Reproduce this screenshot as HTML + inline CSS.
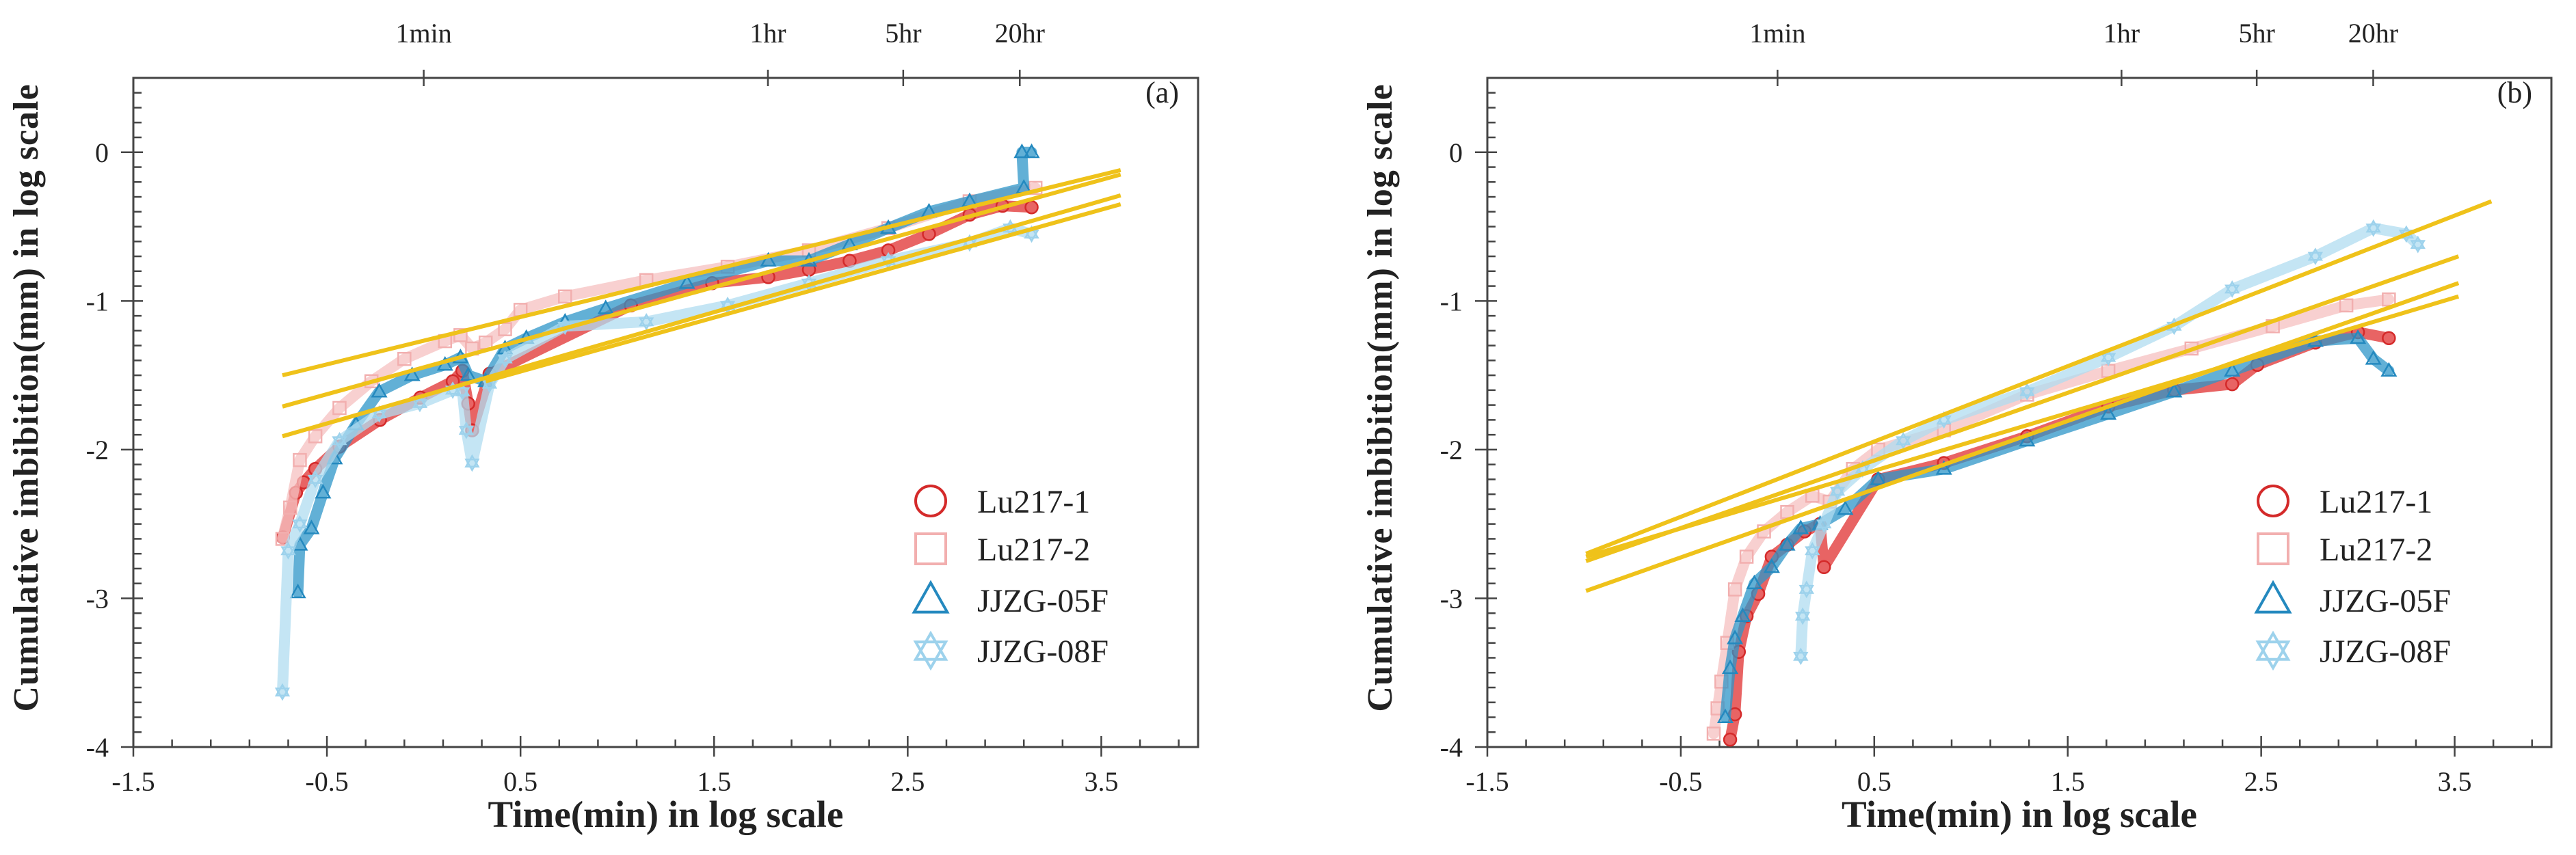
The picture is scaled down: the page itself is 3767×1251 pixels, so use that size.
<!DOCTYPE html>
<html><head><meta charset="utf-8">
<style>
html,body{margin:0;padding:0;background:#fff;}
svg{display:block;}
text{font-family:"Liberation Serif",serif;fill:#222;}
</style></head>
<body>
<svg id="chart" xmlns="http://www.w3.org/2000/svg" width="3767" height="1251" viewBox="0 0 3767 1251"></svg>
<script>
// ---- data panel (a) ----
const seriesNames = ["Lu217-1","Lu217-2","JJZG-05F","JJZG-08F"];
const xTicks = [-1.5,-0.5,0.5,1.5,2.5,3.5];
const xTickLabels = ["-1.5","-0.5","0.5","1.5","2.5","3.5"];
const yTicks = [0,-1,-2,-3,-4];
const yTickLabels = ["0","-1","-2","-3","-4"];
const topTicks = [0,1.778,2.477,3.079];
const topTickLabels = ["1min","1hr","5hr","20hr"];

const aLu1X = [-0.727,-0.66,-0.62,-0.56,-0.435,-0.226,-0.017,0.15,0.2,0.23,0.25,0.34,1.07,1.49,1.78,1.99,2.2,2.4,2.61,2.82,2.99,3.14];
const aLu1Y = [-2.59,-2.29,-2.22,-2.13,-1.98,-1.80,-1.65,-1.54,-1.47,-1.69,-1.87,-1.49,-1.03,-0.88,-0.84,-0.79,-0.73,-0.66,-0.55,-0.42,-0.36,-0.37];
const aLu2X = [-0.73,-0.69,-0.64,-0.56,-0.435,-0.27,-0.1,0.11,0.19,0.25,0.32,0.42,0.5,0.73,1.15,1.57,1.99,2.4,2.82,3.16];
const aLu2Y = [-2.6,-2.39,-2.07,-1.91,-1.72,-1.54,-1.39,-1.27,-1.23,-1.32,-1.28,-1.19,-1.06,-0.97,-0.86,-0.77,-0.66,-0.51,-0.33,-0.24];
const a05X = [-0.65,-0.64,-0.58,-0.52,-0.46,-0.35,-0.23,-0.06,0.11,0.19,0.23,0.32,0.42,0.53,0.73,0.94,1.36,1.78,1.99,2.2,2.4,2.61,2.82,3.1,3.09,3.14];
const a05Y = [-2.96,-2.64,-2.53,-2.29,-2.06,-1.83,-1.61,-1.5,-1.43,-1.38,-1.5,-1.54,-1.32,-1.25,-1.14,-1.05,-0.88,-0.73,-0.73,-0.62,-0.51,-0.40,-0.33,-0.24,0,0];
const a08X = [-0.73,-0.7,-0.64,-0.56,-0.435,-0.23,-0.02,0.15,0.2,0.22,0.25,0.34,0.42,0.73,1.15,1.57,1.99,2.4,2.82,3.03,3.14];
const a08Y = [-3.63,-2.68,-2.5,-2.2,-1.94,-1.76,-1.69,-1.6,-1.61,-1.87,-2.09,-1.56,-1.39,-1.17,-1.14,-1.03,-0.88,-0.73,-0.61,-0.51,-0.55];
const aFitX0 = [-0.73,-0.73,-0.73,0.32];
const aFitY0 = [-1.5,-1.71,-1.91,-1.54];
const aFitX1 = [3.6,3.6,3.6,3.6];
const aFitY1 = [-0.12,-0.15,-0.29,-0.35];

// ---- data panel (b) ----
const bLu1X = [-0.245,-0.22,-0.2,-0.16,-0.1,-0.03,0.05,0.14,0.22,0.24,0.52,0.86,1.29,1.71,2.05,2.35,2.48,2.78,3.0,3.16];
const bLu1Y = [-3.95,-3.78,-3.36,-3.12,-2.97,-2.72,-2.64,-2.55,-2.5,-2.79,-2.2,-2.09,-1.91,-1.71,-1.6,-1.56,-1.43,-1.28,-1.21,-1.25];
const bLu2X = [-0.33,-0.31,-0.29,-0.26,-0.22,-0.16,-0.07,0.05,0.18,0.27,0.39,0.52,0.86,1.29,1.71,2.14,2.56,2.94,3.16];
const bLu2Y = [-3.91,-3.74,-3.56,-3.3,-2.94,-2.72,-2.55,-2.42,-2.31,-2.35,-2.13,-2.0,-1.87,-1.63,-1.47,-1.32,-1.17,-1.03,-0.99];
const b05X = [-0.27,-0.245,-0.22,-0.18,-0.12,-0.03,0.05,0.12,0.22,0.35,0.52,0.86,1.29,1.71,2.05,2.35,2.78,3.0,3.08,3.16];
const b05Y = [-3.8,-3.47,-3.27,-3.12,-2.9,-2.79,-2.64,-2.53,-2.5,-2.4,-2.2,-2.13,-1.94,-1.76,-1.61,-1.47,-1.27,-1.25,-1.39,-1.47];
const b08X = [0.12,0.13,0.15,0.18,0.24,0.31,0.44,0.65,0.86,1.29,1.71,2.05,2.35,2.78,3.08,3.25,3.31];
const b08Y = [-3.39,-3.12,-2.94,-2.68,-2.5,-2.28,-2.13,-1.94,-1.8,-1.61,-1.38,-1.17,-0.92,-0.7,-0.51,-0.55,-0.62];
const bFitX0 = [-0.99,-0.99,-0.99,-0.99];
const bFitY0 = [-2.70,-2.75,-2.95,-2.72];
const bFitX1 = [3.69,3.52,3.52,3.52];
const bFitY1 = [-0.33,-0.70,-0.88,-0.97];

const NS = "http://www.w3.org/2000/svg";
const svg = document.getElementById("chart");
const colors = ["#d42a2a","#f2afaf","#2489bf","#9dd2ec"];
const bandColors = ["#e03030","#f5c0c0","#2e95c8","#b0dcf0"];
const shapes = ["circle","square","triangle","star"];

function el(tag, attrs, parent){
  const e = document.createElementNS(NS, tag);
  for (const k in attrs) e.setAttribute(k, attrs[k]);
  (parent||svg).appendChild(e);
  return e;
}
function marker(shape, cx, cy, r, color, sw, parent){
  let m;
  if (shape==="circle") m = el("circle",{cx:cx,cy:cy,r:r,fill:"none",stroke:color,"stroke-width":sw},parent);
  else if (shape==="square") m = el("rect",{x:cx-r,y:cy-r,width:2*r,height:2*r,fill:"none",stroke:color,"stroke-width":sw},parent);
  else if (shape==="triangle") m = el("polygon",{points:`${cx},${cy-r*1.15} ${cx-r*1.1},${cy+r*0.8} ${cx+r*1.1},${cy+r*0.8}`,fill:"none",stroke:color,"stroke-width":sw},parent);
  else {
    const g = el("g",{},parent);
    el("polygon",{points:`${cx},${cy-r*1.15} ${cx-r},${cy+r*0.58} ${cx+r},${cy+r*0.58}`,fill:"none",stroke:color,"stroke-width":sw},g);
    el("polygon",{points:`${cx},${cy+r*1.15} ${cx-r},${cy-r*0.58} ${cx+r},${cy-r*0.58}`,fill:"none",stroke:color,"stroke-width":sw},g);
    m = g;
  }
  return m;
}

function panel(cfg){
  const g = el("g",{});
  
  
  const L=cfg.left, R=cfg.right, T=114, B=1093;
  const xs = v => L + (v - (-1.5)) / 5.5 * (R - L);
  const ys = v => B - (v - (-4)) / 4.5 * (B - T);

  const frame = el("rect",{x:L,y:T,width:R-L,height:B-T,fill:"none",stroke:"#444","stroke-width":3},g);
  
  

  for (let i=0;i<=27;i++){
    const v = -1.5 + i*0.2;
    if (v > 4.0001) break;
    const major = Math.abs(((v+1.5)%1)) < 1e-6 || Math.abs(((v+1.5)%1)-1) < 1e-6;
    el("line",{x1:xs(v),x2:xs(v),y1:B+(major?14:0),y2:B-(major?16:11),stroke:"#444","stroke-width":2.5},g);
  }
  for (let i=0;i<=45;i++){
    const v = -4 + i*0.1;
    const major = i%10===0;
    el("line",{x1:L-(major?18:0),x2:L+(major?14:12),y1:ys(v),y2:ys(v),stroke:"#444","stroke-width":2.5},g);
  }
  xTicks.forEach((v,i)=>{
    const t = el("text",{x:xs(v),y:1157,"font-size":40,"text-anchor":"middle"},g);
    t.textContent = xTickLabels[i];
    
    
  });
  yTicks.forEach((v,i)=>{
    const t = el("text",{x:L-36,y:ys(v)+14,"font-size":40,"text-anchor":"end"},g);
    t.textContent = yTickLabels[i];
    
    
  });
  topTicks.forEach((v,i)=>{
    el("line",{x1:xs(v),x2:xs(v),y1:T-12,y2:T+12,stroke:"#444","stroke-width":2.5},g);
    const t = el("text",{x:xs(v),y:62,"font-size":40,"text-anchor":"middle"},g);
    t.textContent = topTickLabels[i];
    
    
  });
  const xt = el("text",{x:(L+R)/2,y:1210,"font-size":55,"font-weight":"bold","text-anchor":"middle"},g);
  xt.textContent = "Time(min) in log scale";
  
  
  const yx = L-140, yy = 582;
  const yt = el("text",{x:yx,y:yy,"font-size":52,"font-weight":"bold","text-anchor":"middle",transform:`rotate(-90 ${yx} ${yy})`,"letter-spacing":"1"},g);
  yt.textContent = "Cumulative imbibition(mm) in log scale";
  
  
  const pl = el("text",{x:R-28,y:150,"font-size":44,"text-anchor":"end"},g);
  pl.textContent = cfg.label;
  
  

  cfg.series.forEach((s,si)=>{
    const sg = el("g",{},g);
    
    
    const pts = s.x.map((v,i)=>`${xs(v)},${ys(s.y[i])}`).join(" ");
    el("polyline",{points:pts,fill:"none",stroke:bandColors[si],"stroke-width":16,"stroke-linejoin":"round","stroke-linecap":"round",opacity:0.75},sg);
    s.x.forEach((v,i)=>{
      const m = marker(shapes[si], xs(v), ys(s.y[i]), 9, colors[si], 2.5, sg);
      
      
    });
  });
  cfg.fx0.forEach((v,i)=>{
    const ln = el("line",{x1:xs(v),y1:ys(cfg.fy0[i]),x2:xs(cfg.fx1[i]),y2:ys(cfg.fy1[i]),stroke:"#efc21a","stroke-width":6},g);
    
    
  });
  const lg = el("g",{},g);
  
  
  const rows = [733,803,878,952];
  seriesNames.forEach((n,i)=>{
    const e = el("g",{},lg);
    
    
    marker(shapes[i], cfg.legX, rows[i], 22, colors[i], 4, e);
    const t = el("text",{x:cfg.legX+68,y:rows[i]+17,"font-size":48,fill:"#333"},e);
    t.textContent = n;
  });
}

panel({name:"panel-a",label:"(a)",left:195,right:1752,legX:1361,
  series:[{x:aLu1X,y:aLu1Y},{x:aLu2X,y:aLu2Y},{x:a05X,y:a05Y},{x:a08X,y:a08Y}],
  fx0:aFitX0,fy0:aFitY0,fx1:aFitX1,fy1:aFitY1});
panel({name:"panel-b",label:"(b)",left:2175,right:3731,legX:3324,
  series:[{x:bLu1X,y:bLu1Y},{x:bLu2X,y:bLu2Y},{x:b05X,y:b05Y},{x:b08X,y:b08Y}],
  fx0:bFitX0,fy0:bFitY0,fx1:bFitX1,fy1:bFitY1});
</script>
</body></html>
